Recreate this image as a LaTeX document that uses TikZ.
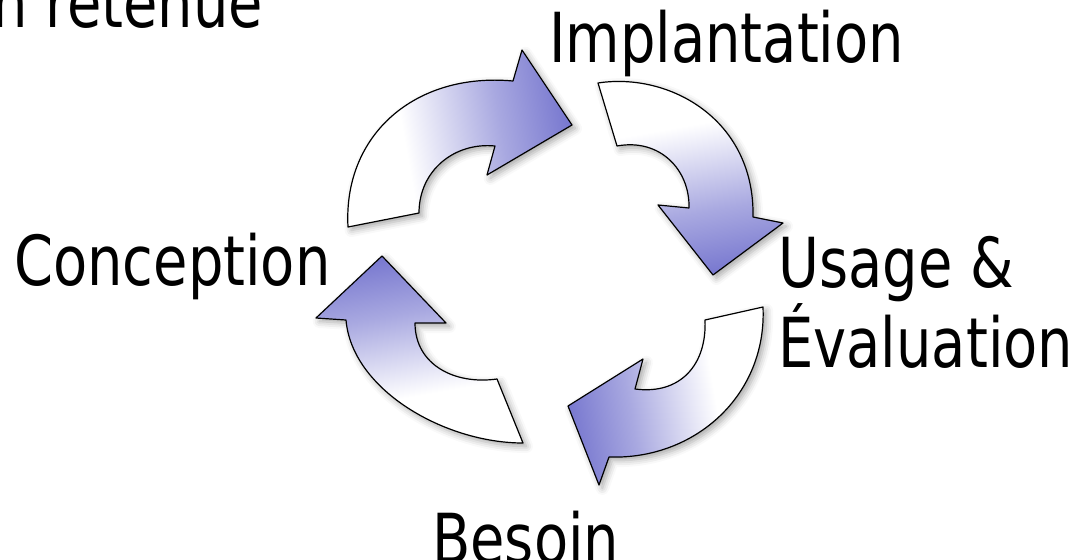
\documentclass[tikz,border=0pt]{standalone}
\usepackage{fontspec}
\setmainfont{DejaVu Sans}[FakeStretch=0.81]
\usetikzlibrary{shadows.blur}
\definecolor{headblue}{RGB}{122,122,208}
\pgfdeclarehorizontalshading{cycshade}{100bp}{color(0bp)=(white); color(38bp)=(white); color(60bp)=(headblue!65); color(75bp)=(headblue); color(100bp)=(headblue)}
\tikzset{
  cyc/.style={draw=black, line width=0.9pt, line join=round, shading=cycshade,
    blur shadow={shadow xshift=2.5pt, shadow yshift=-2.5pt, shadow blur radius=5pt, shadow opacity=35}},
  lbl/.style={font=\fontsize{51.75}{55.5}\selectfont, inner sep=0pt, text=black}
}
\begin{document}
\begin{tikzpicture}[x=0.75pt,y=-0.75pt]
\useasboundingbox (0,0) rectangle (1085,560);
\clip (0,0) rectangle (1085,560);
% Conception -> Implantation
\path[cyc, shading angle=10] (348,227) .. controls (343,135) and (415,72) .. (513,81) -- (522,50) -- (572,125) -- (487,175) -- (495,146) .. controls (455,142) and (419,170) .. (419,213) -- cycle;
% Implantation -> Usage
\path[cyc, shading angle=-80] (598,83) .. controls (670,72) and (755,120) .. (753,217) -- (783,223) -- (713,275) -- (658,205) -- (689,208) .. controls (690,170) and (660,138) .. (617,146) -- cycle;
% Usage -> Besoin
\path[cyc, shading angle=190] (763,307) .. controls (767,395) and (695,460) .. (609,457) -- (599,485) -- (568,406) -- (643,359) -- (635,389) .. controls (680,395) and (707,365) .. (705,320) -- cycle;
% Besoin -> Conception
\path[cyc, shading angle=100] (523,443) .. controls (445,443) and (352,390) .. (346,320) -- (316,318) -- (382,256) -- (446,323) -- (415,323) .. controls (415,365) and (455,385) .. (497,379) -- cycle;
% labels
\node[lbl, anchor=base west] (retenue) at (-8,28) {n retenue};
\node[lbl, anchor=base west] (impl) at (549,63) {Implantation};
\node[lbl, anchor=base west] (conc) at (14,285) {Conception};
\node[lbl, anchor=base west, align=left] (usage) at (778,367) {Usage \&\\Évaluation};
\node[lbl, anchor=base west] (besoin) at (432,563) {Besoin};
\end{tikzpicture}
\end{document}
